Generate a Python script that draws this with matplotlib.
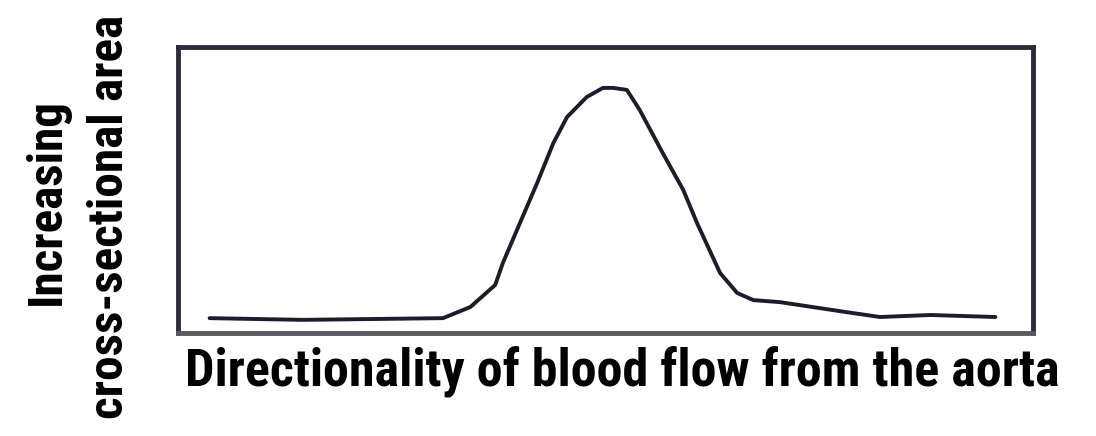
import matplotlib
matplotlib.use("Agg")
import matplotlib.pyplot as plt

# curve, frame runs 0..100 in both directions
x_flow = [3.7, 14.6, 31.0, 34.2, 37.1, 38.0, 40.0, 42.0, 43.9, 45.5, 47.8, 49.7,
          50.9, 52.5, 54.0, 56.7, 59.1, 60.7, 63.4, 65.4, 67.3, 70.4, 78.2, 82.1,
          88.0, 95.6]
y_area = [5.2, 4.6, 5.2, 9.1, 16.8, 24.5, 38.5, 52.4, 66.4, 75.5, 82.5, 85.7,
          85.7, 85.0, 78.0, 62.9, 50.0, 38.5, 21.0, 14.0, 11.5, 10.8, 7.3, 5.6,
          6.3, 5.6]

x_label = "Directionality of blood flow from the aorta"
y_label_1 = "Increasing"
y_label_2 = "cross-sectional area"

face = dict(family=["Roboto Condensed", "DejaVu Sans"], weight="bold")

fig = plt.figure(figsize=(10.96, 4.36), dpi=100)
ax = fig.add_axes([0.1624, 0.2362, 0.7801, 0.656])

ax.plot(x_flow, y_area, color="#1c1c2a", lw=2.8, solid_joinstyle="round",
        solid_capstyle="round")
ax.set_xlim(0, 100)
ax.set_ylim(0, 100)
ax.set_xticks([])
ax.set_yticks([])
for side in ax.spines.values():
    side.set_linewidth(3.5)
    side.set_color("#2b2b3b")
ax.spines["bottom"].set_color("#5a5a5e")

fig.text(0.5675, 0.1124, x_label, ha="center", va="baseline", fontsize=37.5, **face)
fig.text(0.0429, 0.5367, y_label_1, ha="center", va="center", rotation=90,
         fontsize=35.5, **face)
fig.text(0.1004, 0.5034, y_label_2, ha="center", va="center", rotation=90,
         fontsize=35.5, **face)

fig.savefig("out.png", dpi=100)
